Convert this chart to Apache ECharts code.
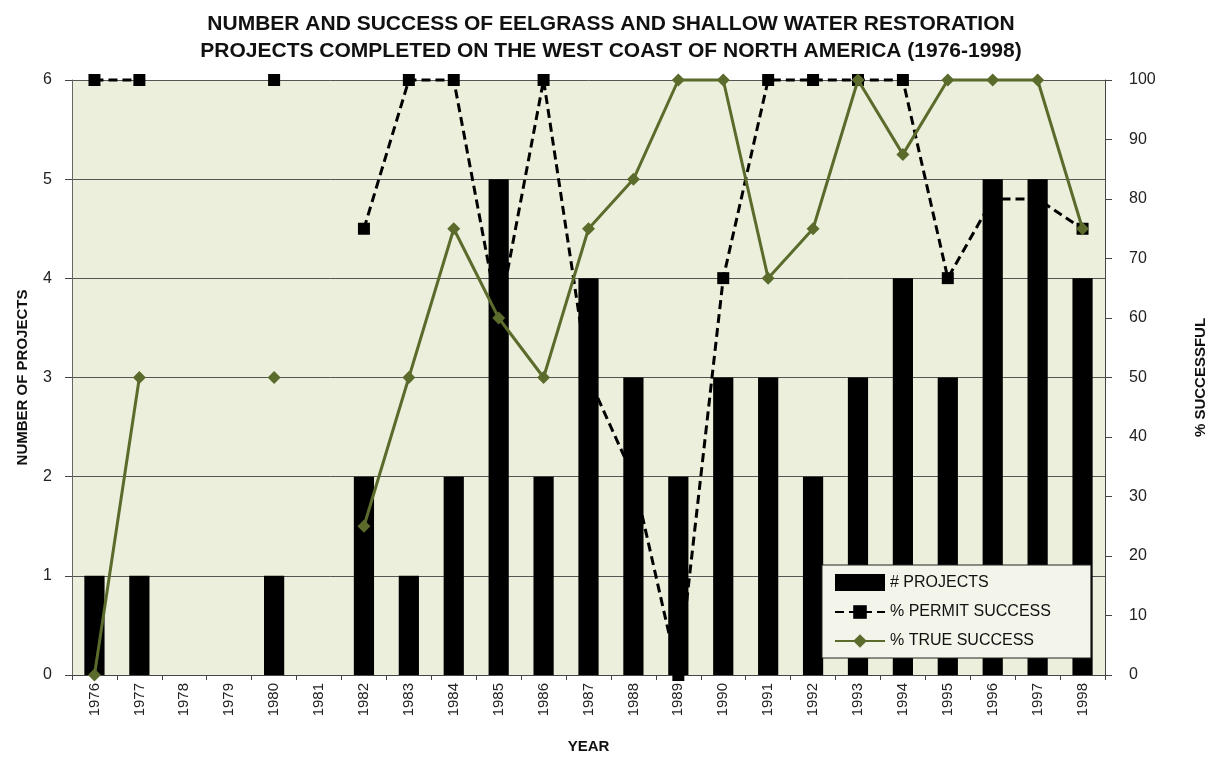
<!DOCTYPE html>
<html>
<head>
<meta charset="utf-8">
<script src="https://cdn.jsdelivr.net/npm/echarts@6/dist/echarts.min.js"></script>
<style>
  html, body { margin: 0; padding: 0; background: #fff; }
  #chart { width: 1212px; height: 762px; }
</style>
</head>
<body>
<div id="chart"></div>
<script>
// data
const years = ['1976', '1977', '1978', '1979', '1980', '1981', '1982', '1983', '1984', '1985', '1986', '1987',
  '1988', '1989', '1990', '1991', '1992', '1993', '1994', '1995', '1996', '1997', '1998'];
const projects = [1, 1, 0, 0, 1, 0, 2, 1, 2, 5, 2, 4, 3, 2, 3, 3, 2, 3, 4, 3, 5, 5, 4];
const permitSuccess = [100, 100, null, null, 100, null, 75, 100, 100, 60, 100, 50, 33.3, 0, 66.7, 100, 100, 100, 100, 66.7, 80, 80, 75];
const trueSuccess = [0, 50, null, null, 50, null, 25, 50, 75, 60, 50, 75, 83.3, 100, 100, 66.7, 75, 100, 87.5, 100, 100, 100, 75];
const leftTicks = [0, 1, 2, 3, 4, 5, 6];
const rightTicks = [0, 10, 20, 30, 40, 50, 60, 70, 80, 90, 100];

const font = 'Liberation Sans, Arial, sans-serif';
const green = '#5b6b2c';

const chart = echarts.init(document.getElementById('chart'));
chart.setOption({
  animation: false,
  title: {
    text: 'NUMBER AND SUCCESS OF EELGRASS AND SHALLOW WATER RESTORATION\nPROJECTS COMPLETED ON THE WEST COAST OF NORTH AMERICA (1976-1998)',
    left: 606,
    textAlign: 'center',
    top: 6,
    textStyle: { fontFamily: font, fontSize: 21, fontWeight: 'bold', color: '#111', lineHeight: 27 }
  },
  grid: {
    left: 72, right: 107, top: 80, bottom: 87,
    outerBoundsMode: 'none',
    show: true, backgroundColor: '#ebefdb', borderWidth: 0
  },
  legend: {
    orient: 'vertical',
    left: 822, top: 565,
    padding: [9, 40, 9, 12],
    itemGap: 13,
    itemWidth: 50, itemHeight: 17,
    backgroundColor: '#f3f4ea',
    borderColor: '#222', borderWidth: 1,
    textStyle: { fontFamily: font, fontSize: 16, color: '#111' },
    data: [
      { name: '# PROJECTS', icon: 'rect' },
      '% PERMIT SUCCESS',
      '% TRUE SUCCESS'
    ]
  },
  xAxis: {
    type: 'category',
    data: years,
    name: 'YEAR',
    nameLocation: 'middle',
    nameGap: 64,
    nameTextStyle: { fontFamily: font, fontSize: 15, fontWeight: 'bold', color: '#111' },
    axisLine: { lineStyle: { color: '#444', width: 1 } },
    axisTick: { show: true, length: 5, lineStyle: { color: '#444' } },
    axisLabel: { rotate: 90, fontFamily: font, fontSize: 15, color: '#222', margin: 8, interval: 0 }
  },
  yAxis: [
    {
      type: 'value',
      min: leftTicks[0], max: leftTicks[leftTicks.length - 1], interval: 1,
      name: 'NUMBER OF PROJECTS',
      nameLocation: 'middle',
      nameGap: 42,
      nameTextStyle: { fontFamily: font, fontSize: 15, fontWeight: 'bold', color: '#111' },
      axisLine: { show: true, lineStyle: { color: '#666' } },
      axisTick: { show: true, length: 7, lineStyle: { color: '#444' } },
      axisLabel: { fontFamily: font, fontSize: 16, color: '#222', margin: 20 },
      splitLine: { show: true, lineStyle: { color: '#555', width: 1 } }
    },
    {
      type: 'value',
      min: rightTicks[0], max: rightTicks[rightTicks.length - 1], interval: 10,
      name: '% SUCCESSFUL',
      nameLocation: 'middle',
      nameGap: 88,
      nameRotate: 90,
      nameTextStyle: { fontFamily: font, fontSize: 15, fontWeight: 'bold', color: '#111' },
      axisLine: { show: true, lineStyle: { color: '#444' } },
      axisTick: { show: true, length: 7, lineStyle: { color: '#444' } },
      axisLabel: { fontFamily: font, fontSize: 16, color: '#222', margin: 24 },
      splitLine: { show: false }
    }
  ],
  series: [
    {
      name: '# PROJECTS',
      type: 'bar',
      data: projects,
      barWidth: '45%',
      itemStyle: { color: '#000' },
      z: 2
    },
    {
      name: '% PERMIT SUCCESS',
      type: 'line',
      yAxisIndex: 1,
      data: permitSuccess,
      connectNulls: false,
      symbol: 'rect',
      symbolSize: 12,
      clip: false,
      lineStyle: { color: '#000', width: 3, type: [9, 5] },
      itemStyle: { color: '#000' },
      z: 3
    },
    {
      name: '% TRUE SUCCESS',
      type: 'line',
      yAxisIndex: 1,
      data: trueSuccess,
      connectNulls: false,
      symbol: 'diamond',
      symbolSize: 13,
      clip: false,
      lineStyle: { color: green, width: 3 },
      itemStyle: { color: green },
      z: 4
    }
  ]
});
</script>
</body>
</html>
